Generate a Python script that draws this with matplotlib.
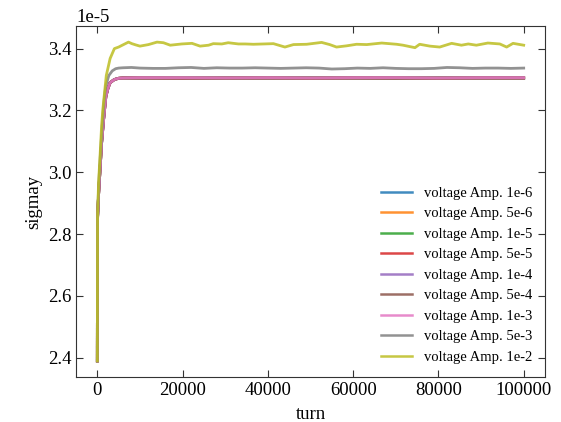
import numpy as np
import matplotlib
matplotlib.use('Agg')
import matplotlib.pyplot as plt

plt.rcParams['font.family'] = ['Liberation Serif', 'DejaVu Serif']
plt.rcParams['axes.unicode_minus'] = False

# values in units of 1e-5
turn_low = [0, 50, 300, 600, 1000, 1500, 2000, 2500, 3000, 4000, 5000, 6000,
            10000, 20000, 30000, 40000, 50000, 60000, 70000, 80000, 90000, 100000]
rise_low = [2.39, 2.85, 2.93, 3.00, 3.095, 3.175, 3.245, 3.272, 3.290, 3.300, 3.304]
amp_1e6 = rise_low + [3.305] * 11
amp_5e6 = rise_low + [3.305] * 11
amp_1e5 = rise_low + [3.305] * 11
amp_5e5 = rise_low + [3.305, 3.305, 3.304, 3.305, 3.305, 3.304, 3.305, 3.305, 3.304, 3.305, 3.305]
amp_1e4 = rise_low + [3.305] * 11
amp_5e4 = rise_low + [3.305, 3.305, 3.305, 3.304, 3.305, 3.305, 3.305, 3.304, 3.305, 3.305, 3.305]
amp_1e3 = rise_low + [3.305, 3.306, 3.306, 3.305, 3.306, 3.305, 3.306, 3.306, 3.305, 3.306, 3.306]

turn_5e3 = [0, 50, 300, 600, 1000, 1500, 1800, 2000, 2700, 3500, 4300, 5000,
            6000, 8000, 10000, 13000, 16000, 19000, 22000, 25000, 28000, 31000,
            34000, 37000, 40000, 43000, 46000, 49000, 52000, 55000, 58000, 61000,
            64000, 67000, 70000, 73000, 76000, 79000, 82000, 85000, 88000, 91000,
            94000, 97000, 100000]
amp_5e3 = [2.39, 2.85, 2.95, 3.03, 3.12, 3.22, 3.259, 3.28, 3.313, 3.328, 3.335, 3.337,
           3.338, 3.339, 3.337, 3.336, 3.336, 3.338, 3.339, 3.336, 3.338, 3.337,
           3.337, 3.338, 3.337, 3.336, 3.337, 3.338, 3.337, 3.334, 3.335, 3.337,
           3.336, 3.338, 3.336, 3.335, 3.335, 3.336, 3.339, 3.338, 3.336, 3.337,
           3.337, 3.336, 3.337]

turn_1e2 = [0, 50, 300, 600, 1000, 1300, 2100, 3000, 4000, 5000, 6000, 7300,
            8100, 9000, 10000, 12000, 14000, 15500, 17100, 19800, 22200, 24100,
            26100, 27200, 29200, 30700, 33100, 34700, 36600, 39000, 41300, 44000,
            46000, 49100, 52600, 54500, 56100, 58500, 60800, 63200, 66700, 70200,
            71700, 74500, 75600, 78000, 80300, 83100, 85400, 87000, 88900, 91600,
            94400, 96000, 97500, 100000]
amp_1e2 = [2.39, 2.86, 2.97, 3.043, 3.15, 3.205, 3.313, 3.368, 3.40, 3.405, 3.412, 3.421,
           3.416, 3.412, 3.408, 3.413, 3.421, 3.419, 3.411, 3.415, 3.417, 3.408,
           3.411, 3.416, 3.415, 3.419, 3.415, 3.415, 3.414, 3.415, 3.416, 3.405,
           3.413, 3.414, 3.420, 3.413, 3.405, 3.409, 3.414, 3.413, 3.418, 3.414,
           3.411, 3.403, 3.414, 3.408, 3.405, 3.417, 3.411, 3.415, 3.411, 3.418,
           3.415, 3.405, 3.417, 3.411]

labels = ['voltage Amp. 1e-6', 'voltage Amp. 5e-6', 'voltage Amp. 1e-5',
          'voltage Amp. 5e-5', 'voltage Amp. 1e-4', 'voltage Amp. 5e-4',
          'voltage Amp. 1e-3', 'voltage Amp. 5e-3', 'voltage Amp. 1e-2']
series = [(turn_low, amp_1e6), (turn_low, amp_5e6), (turn_low, amp_1e5),
          (turn_low, amp_5e5), (turn_low, amp_1e4), (turn_low, amp_5e4),
          (turn_low, amp_1e3), (turn_5e3, amp_5e3), (turn_1e2, amp_1e2)]

fig = plt.figure(figsize=(5.61, 4.22), dpi=100)
ax = fig.add_axes([0.1355, 0.107, 0.836, 0.831])

for (t, s), lab in zip(series, labels):
    ax.plot(t, np.array(s) * 1e-5, lw=2, alpha=0.85, label=lab)

for sp in ax.spines.values():
    sp.set_color('#333333')
ax.tick_params(direction='in', top=True, right=True, labelsize=13.5, length=5,
               color='#333333')
ax.yaxis.get_offset_text().set_fontsize(13.5)
ax.set_xlabel('turn', fontsize=13.5, labelpad=5)
ax.set_ylabel('sigmay', fontsize=13.5)
leg = ax.legend(loc='lower right', frameon=False, fontsize=10.5,
                handlelength=2.1)
for line in leg.get_lines():
    line.set_linewidth(1.8)

fig.savefig('out.png', dpi=100)
